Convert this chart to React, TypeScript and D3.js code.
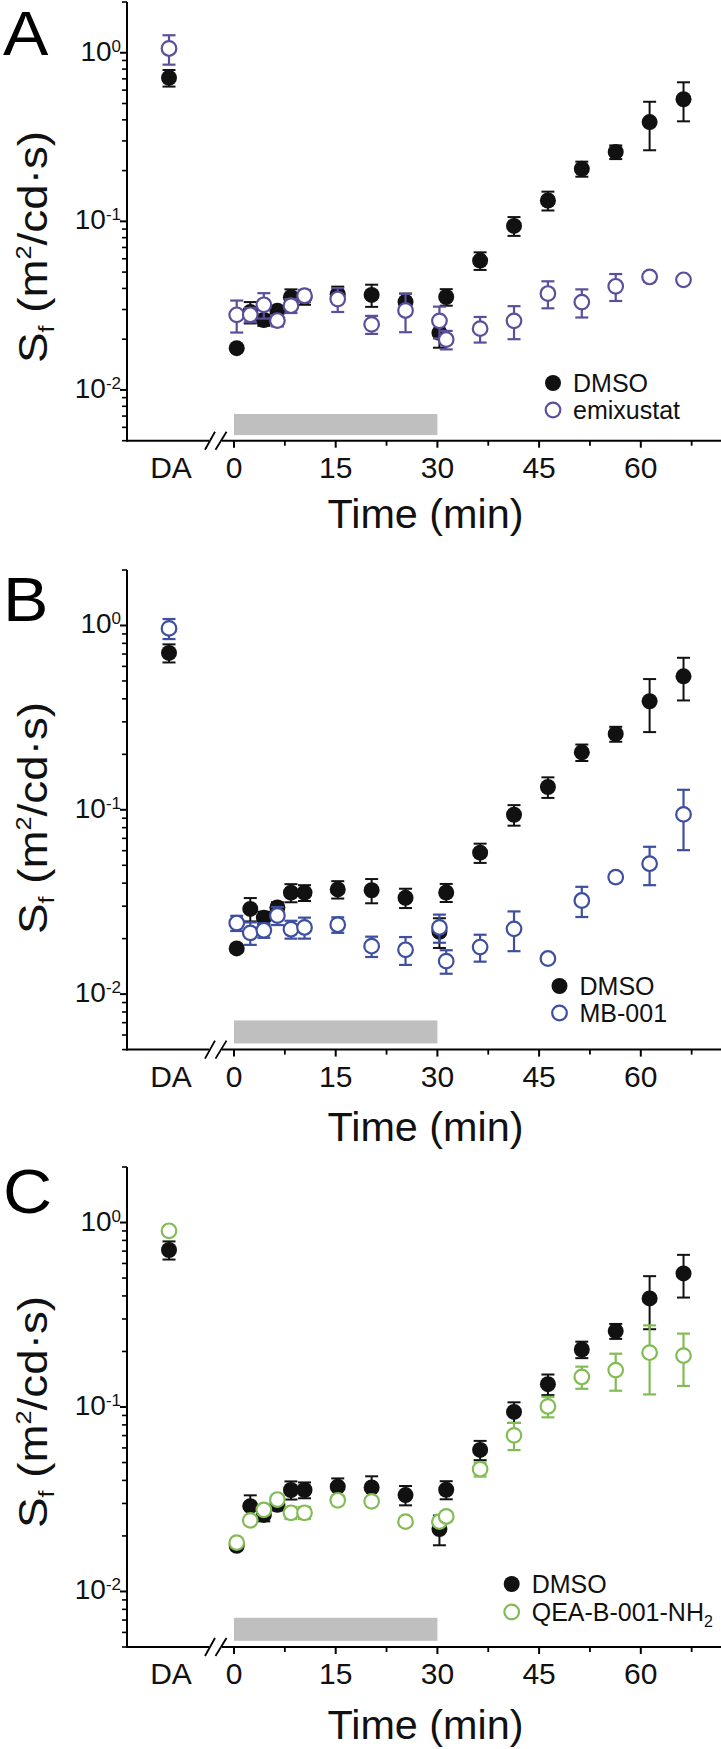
import React from 'react';
import * as d3 from 'd3';

// ---------- data ----------
const TIMES = [0.4, 2.4, 4.4, 6.4, 8.4, 10.4, 15.3, 20.3, 25.3, 30.3, 31.3, 36.3, 41.3, 46.3, 51.3, 56.3, 61.3, 66.3];

const DMSO_DA = 0.71;
const DMSO_DA_SEM = 0.08;
const DMSO_MEAN = [0.0177, 0.029, 0.026, 0.0295, 0.0355, 0.0355, 0.037, 0.0366, 0.0333, 0.0218, 0.0356, 0.0585, 0.094, 0.133, 0.205, 0.258, 0.388, 0.53];
const DMSO_SEM = [0.0008, 0.0042, 0.002, 0.002, 0.004, 0.0035, 0.004, 0.0055, 0.004, 0.004, 0.004, 0.007, 0.012, 0.017, 0.021, 0.024, 0.124, 0.138];

const EMIX_DA = 1.06;
const EMIX_DA_SEM = 0.21;
const EMIX_MEAN = [0.0279, 0.0279, 0.032, 0.0258, 0.0316, 0.0362, 0.0346, 0.0245, 0.0296, 0.0257, 0.0199, 0.0231, 0.0257, 0.0373, 0.0332, 0.0412, 0.0468, 0.045];
const EMIX_SEM = [0.006, 0.0027, 0.0055, 0.002, 0.003, 0.003, 0.0056, 0.003, 0.0076, 0.0055, 0.0025, 0.004, 0.0057, 0.0068, 0.0063, 0.0075, 0.003, 0.0025];

const MB_DA = 0.964;
const MB_DA_SEM = 0.12;
const MB_MEAN = [0.0243, 0.0215, 0.0222, 0.0267, 0.0225, 0.023, 0.0238, 0.0182, 0.0174, 0.023, 0.0151, 0.018, 0.0226, 0.0156, 0.0322, 0.0431, 0.051, 0.0944];
const MB_SEM = [0.0023, 0.003, 0.002, 0.003, 0.0025, 0.003, 0.0023, 0.0023, 0.003, 0.004, 0.0022, 0.003, 0.0055, 0.0004, 0.006, 0.0025, 0.012, 0.034];

const QEA_DA = 0.902;
const QEA_DA_SEM = 0.03;
const QEA_MEAN = [0.0184, 0.0243, 0.0277, 0.0315, 0.0267, 0.0267, 0.0312, 0.0308, 0.0239, 0.0239, 0.0255, 0.046, 0.0702, 0.1007, 0.1455, 0.1585, 0.197, 0.19];
const QEA_SEM = [0.001, 0.0012, 0.0015, 0.0015, 0.002, 0.002, 0.0015, 0.0015, 0.0012, 0.0012, 0.0015, 0.004, 0.0118, 0.0128, 0.02, 0.036, 0.08, 0.06];

const X_MAJOR = [0, 15, 30, 45, 60];
const X_MINOR = [7.5, 22.5, 37.5, 52.5, 67.5];
const Y_MAJOR = [0.01, 0.1, 1];
const Y_EXP = ['-2', '-1', '0'];
const Y_DOMAIN: [number, number] = [0.005, 2];
const TREAT_PERIOD = [0, 30];
const TREAT_BAND = [0.0054, 0.0072];

const PANEL_LETTERS = ['A', 'B', 'C'];
const DRUG_NAMES = ['emixustat', 'MB-001', 'QEA-B-001-NH'];
const DRUG_COLORS = ['#5b4f9b', '#3e4f9f', '#82bc55'];

// ---------- layout ----------
const W = 721;
const H = 1749;
const FONT = '"Liberation Sans", Arial, Helvetica, sans-serif';
const AXIS_X = 127;
const DA_X = 169;
const xScale = d3.scaleLinear().domain([0, 60]).range([234, 640.8]);

const PANELS = [
  { top: 2, bottom: 440.7, letterY: 55, ylabY: 247, xlabOff: 87, legX: 553, legY: [383, 410] },
  { top: 570, bottom: 1049.6, letterY: 621, ylabY: 818, xlabOff: 91, legX: 559.5, legY: [986, 1013] },
  { top: 1167, bottom: 1647, letterY: 1213, ylabY: 1412, xlabOff: 92, legX: 511.7, legY: [1584, 1612] },
];

const drugs = [
  { da: EMIX_DA, daSem: EMIX_DA_SEM, mean: EMIX_MEAN, sem: EMIX_SEM },
  { da: MB_DA, daSem: MB_DA_SEM, mean: MB_MEAN, sem: MB_SEM },
  { da: QEA_DA, daSem: QEA_DA_SEM, mean: QEA_MEAN, sem: QEA_SEM },
];

type Pt = { x: number; m: number; s: number };

function series(da: number, daSem: number, mean: number[], sem: number[]): Pt[] {
  return [{ x: DA_X, m: da, s: daSem }, ...TIMES.map((t, i) => ({ x: xScale(t), m: mean[i], s: sem[i] }))];
}

function ErrBars({ pts, y, color, sw }: { pts: Pt[]; y: d3.ScaleLogarithmic<number, number>; color: string; sw: number }) {
  return (
    <g stroke={color} strokeWidth={sw} fill="none">
      {pts.map((p, i) => {
        const y1 = y(p.m + p.s);
        const y2 = y(Math.max(p.m - p.s, 0.001));
        return (
          <g key={i}>
            <line x1={p.x} x2={p.x} y1={y1} y2={y2} />
            <line x1={p.x - 6.5} x2={p.x + 6.5} y1={y1} y2={y1} />
            <line x1={p.x - 6.5} x2={p.x + 6.5} y1={y2} y2={y2} />
          </g>
        );
      })}
    </g>
  );
}

function Panel({ idx }: { idx: number }) {
  const P = PANELS[idx];
  const y = d3.scaleLog().domain(Y_DOMAIN).range([P.bottom, P.top]);
  const color = DRUG_COLORS[idx];
  const dr = drugs[idx];
  const dmso = series(DMSO_DA, DMSO_DA_SEM, DMSO_MEAN, DMSO_SEM);
  const other = series(dr.da, dr.daSem, dr.mean, dr.sem);

  const minorY: number[] = [];
  for (let e = -3; e <= 0; e++) {
    for (let k = 2; k <= 9; k++) {
      const v = k * Math.pow(10, e);
      if (v >= Y_DOMAIN[0] - 1e-9 && v <= Y_DOMAIN[1] + 1e-9) minorY.push(v);
    }
  }
  const B = P.bottom;
  const breakL = 209;
  const breakR = 222;

  return (
    <g fontFamily={FONT}>
      {/* treatment bar */}
      <rect
        x={xScale(TREAT_PERIOD[0])}
        width={xScale(TREAT_PERIOD[1]) - xScale(TREAT_PERIOD[0])}
        y={y(TREAT_BAND[1])}
        height={y(TREAT_BAND[0]) - y(TREAT_BAND[1])}
        fill="#bfbfbf"
      />
      {/* y axis */}
      <line x1={AXIS_X} x2={AXIS_X} y1={P.top} y2={B + 1} stroke="#000" strokeWidth={2} />
      {Y_MAJOR.map((v) => (
        <line key={'M' + v} x1={AXIS_X - 7} x2={AXIS_X} y1={y(v)} y2={y(v)} stroke="#000" strokeWidth={2} />
      ))}
      {minorY.map((v) => (
        <line key={'m' + v} x1={AXIS_X - 5} x2={AXIS_X} y1={y(v)} y2={y(v)} stroke="#000" strokeWidth={1.6} />
      ))}
      {Y_MAJOR.map((v, i) => (
        <text key={'t' + v} x={121} y={y(v) + 8} textAnchor="end" fontSize={28} fill="#111">
          10<tspan fontSize={17} dy={-9}>{Y_EXP[i]}</tspan>
        </text>
      ))}
      {/* x axis */}
      <line x1={AXIS_X - 1} x2={breakL} y1={B} y2={B} stroke="#000" strokeWidth={2} />
      <line x1={breakR} x2={W} y1={B} y2={B} stroke="#000" strokeWidth={2} />
      <line x1={205} x2={215} y1={B + 9} y2={B - 9} stroke="#000" strokeWidth={1.8} />
      <line x1={215.5} x2={226.5} y1={B + 9} y2={B - 9} stroke="#000" strokeWidth={1.8} />
      {X_MAJOR.map((v) => (
        <line key={'xM' + v} x1={xScale(v)} x2={xScale(v)} y1={B} y2={B + 7} stroke="#000" strokeWidth={2} />
      ))}
      {X_MINOR.map((v) => (
        <line key={'xm' + v} x1={xScale(v)} x2={xScale(v)} y1={B} y2={B + 5} stroke="#000" strokeWidth={1.8} />
      ))}
      {X_MAJOR.map((v) => (
        <text key={'xt' + v} x={xScale(v)} y={B + 37} textAnchor="middle" fontSize={30} fill="#111">
          {v}
        </text>
      ))}
      <text x={171} y={B + 37} textAnchor="middle" fontSize={30} fill="#111">DA</text>
      <text x={425.5} y={B + P.xlabOff} textAnchor="middle" fontSize={40} fill="#111" textLength={196} lengthAdjust="spacingAndGlyphs">Time (min)</text>
      {/* y label */}
      <text
        transform={`translate(47, ${P.ylabY}) rotate(-90)`}
        textAnchor="middle"
        fontSize={40}
        fill="#111"
        textLength={232}
        lengthAdjust="spacingAndGlyphs"
      >
        S<tspan fontSize={22} dy={7}>f</tspan>
        <tspan dy={-7}> (m</tspan>
        <tspan fontSize={22} dy={-16}>2</tspan>
        <tspan dy={16}>/cd·s)</tspan>
      </text>
      {/* panel letter */}
      <text transform={`translate(3, ${P.letterY}) scale(1.08, 1)`} fontSize={63} fill="#000">{PANEL_LETTERS[idx]}</text>

      {/* data */}
      <ErrBars pts={dmso} y={y} color="#111" sw={2} />
      {dmso.map((p, i) => (
        <circle key={'d' + i} cx={p.x} cy={y(p.m)} r={8} fill="#111" />
      ))}
      <ErrBars pts={other} y={y} color={color} sw={2.2} />
      {other.map((p, i) => (
        <circle key={'o' + i} cx={p.x} cy={y(p.m)} r={7.3} fill="#fff" stroke={color} strokeWidth={2.2} />
      ))}

      {/* legend */}
      <circle cx={P.legX} cy={P.legY[0]} r={8} fill="#111" />
      <circle cx={P.legX} cy={P.legY[1]} r={7.3} fill="#fff" stroke={color} strokeWidth={2.2} />
      <text x={P.legX + 20} y={P.legY[0] + 8.5} fontSize={25} fill="#111">DMSO</text>
      <text x={P.legX + 20} y={P.legY[1] + 8.5} fontSize={25} fill="#111">
        {DRUG_NAMES[idx]}
        {idx === 2 ? <tspan fontSize={16} dy={6}>2</tspan> : null}
      </text>
    </g>
  );
}

export default function App() {
  return (
    <svg
      width={W}
      height={H}
      viewBox={`0 0 ${W} ${H}`}
      style={{ position: 'absolute', left: 0, top: 0, background: '#fff' }}
    >
      <rect width={W} height={H} fill="#fff" />
      {PANELS.map((_, i) => (
        <Panel key={i} idx={i} />
      ))}
    </svg>
  );
}
